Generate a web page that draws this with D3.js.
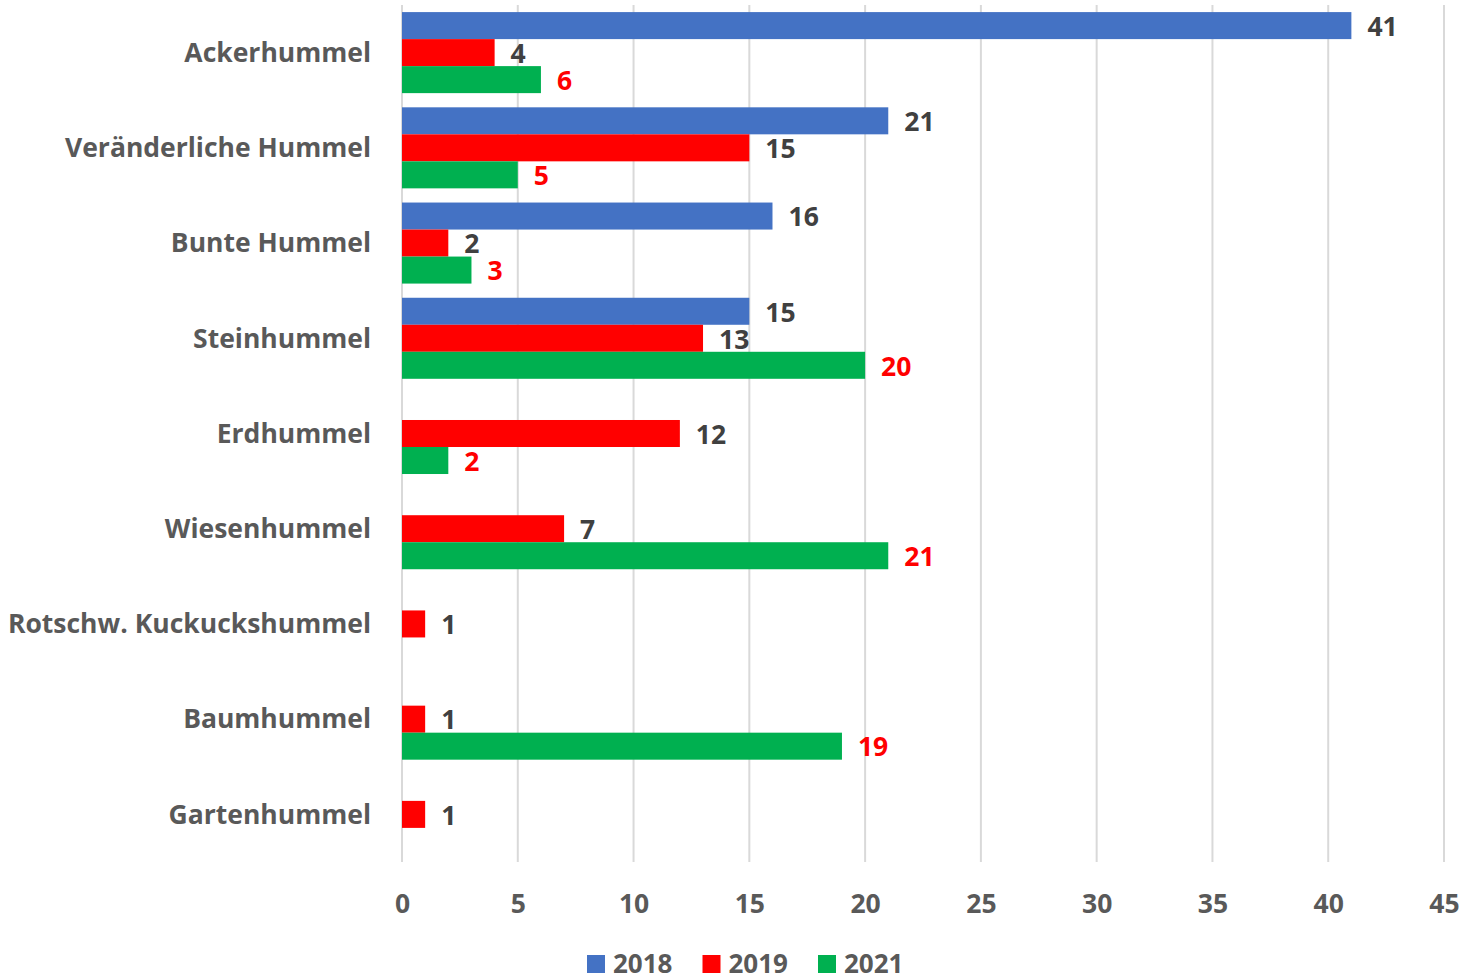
<!DOCTYPE html>
<html><head><meta charset="utf-8">
<script src="https://cdn.jsdelivr.net/npm/d3@7"></script>
<style>html,body{margin:0;padding:0;background:#fff;overflow:hidden}</style>
</head><body>
<svg id="c" width="1466" height="980"></svg>
<script>
const categories = ["Ackerhummel","Veränderliche Hummel","Bunte Hummel","Steinhummel","Erdhummel","Wiesenhummel","Rotschw. Kuckuckshummel","Baumhummel","Gartenhummel"];
const seriesNames = ["2018","2019","2021"];
const values2018 = [41,21,16,15,null,null,null,null,null];
const values2019 = [4,15,2,13,12,7,1,1,1];
const values2021 = [6,5,3,20,2,21,null,19,null];
const xTicks = [0,5,10,15,20,25,30,35,40,45];
const colors = ["#4472C4","#FF0000","#00B050"];
const labelColors = ["#404040","#404040","#FF0000"];

const seriesValues = [values2018, values2019, values2021];
const font = "'Open Sans', Lato, sans-serif";
const svg = d3.select("#c");
const x = d3.scaleLinear().domain([0,45]).range([402,1444]);
const y = d3.scaleBand().domain(categories).range([5,862]).paddingInner(0.149).paddingOuter(0.0745);
const ys = d3.scaleBand().domain(seriesNames).range([0,y.bandwidth()]);

// gridlines
svg.append("g").selectAll("line").data(xTicks).join("line")
  .attr("x1",d=>x(d)).attr("x2",d=>x(d)).attr("y1",5).attr("y2",862)
  .attr("stroke","#D9D9D9").attr("stroke-width",2);

// x axis labels
const xa = svg.append("g").attr("transform","translate(0,904)")
  .call(d3.axisBottom(x).tickValues(xTicks).tickSize(0).tickPadding(0));
xa.select(".domain").remove();
xa.selectAll("text").attr("fill","#595959").attr("font-family",font).attr("font-weight","bold")
  .attr("font-size",26.5).attr("dy","0.35em");

// y axis labels
const ya = svg.append("g").attr("transform","translate(371,0)")
  .call(d3.axisLeft(y).tickSize(0).tickPadding(0));
ya.select(".domain").remove();
ya.selectAll("text").attr("fill","#595959").attr("font-family",font).attr("font-weight","bold")
  .attr("font-size",26.5).attr("dy","0.35em");

// bars
seriesNames.forEach((s,i)=>{
  const data = categories.map((c,j)=>({c, v: seriesValues[i][j]})).filter(d=>d.v!=null);
  const g = svg.append("g");
  g.selectAll("rect").data(data).join("rect")
    .attr("x",x(0)).attr("y",d=>y(d.c)+ys(s))
    .attr("width",d=>x(d.v)-x(0)).attr("height",ys.bandwidth())
    .attr("fill",colors[i]);
  g.selectAll("text").data(data).join("text")
    .attr("x",d=>x(d.v)+16).attr("y",d=>y(d.c)+ys(s)+ys.bandwidth()/2+1)
    .attr("dy","0.35em")
    .attr("fill",labelColors[i]).attr("font-family",font).attr("font-weight","bold")
    .attr("font-size",26.5).text(d=>d.v);
});

// legend
const leg = svg.append("g");
seriesNames.forEach((s,i)=>{
  const lx = 587 + i*115.5;
  leg.append("rect").attr("x",lx).attr("y",955).attr("width",18).attr("height",18).attr("fill",colors[i]);
  leg.append("text").attr("x",lx+26).attr("y",973)
    .attr("fill","#595959").attr("font-family",font).attr("font-weight","bold")
    .attr("font-size",26).text(s);
});
</script>
</body></html>
